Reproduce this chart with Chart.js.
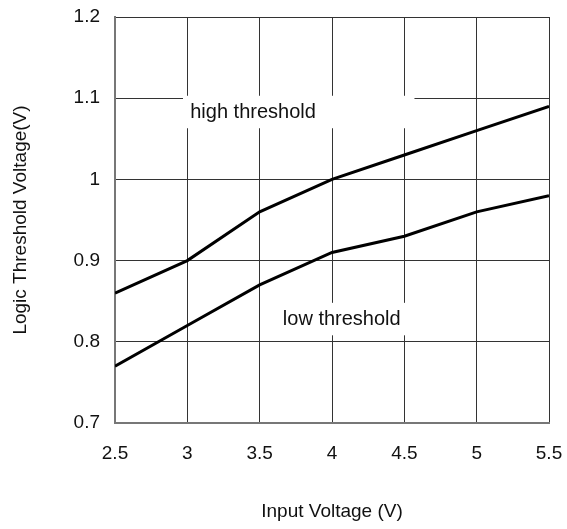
<!DOCTYPE html>
<html>
<head>
<meta charset="utf-8">
<script src="https://cdn.jsdelivr.net/npm/chart.js@4"></script>
<style>
  html, body { margin: 0; padding: 0; background: #fff; }
  #wrap { width: 567px; height: 529px; }
</style>
</head>
<body>
<div id="wrap"><canvas id="chart" width="567" height="529"></canvas></div>
<script>
var inputVoltage = [2.5, 3, 3.5, 4, 4.5, 5, 5.5];
var highThreshold = [0.86, 0.90, 0.96, 1.00, 1.03, 1.06, 1.09];
var lowThreshold = [0.77, 0.82, 0.87, 0.91, 0.93, 0.96, 0.98];

var curveLabels = ['high threshold', 'low threshold'];
// text anchor (x, y) and white box (x1, x2, y1, y2), in data units
var labelAnchor = [[3.02, 1.083], [3.66, 0.827]];
var labelBox = [[2.97, 4.57, 1.103, 1.063], [3.64, 4.51, 0.848, 0.808]];

var FONT = "'Liberation Sans', Arial, sans-serif";

function toPoints(xs, ys) {
    return xs.map(function (x, i) { return {x: x, y: ys[i]}; });
}

function fmt(v) {
    return String(+Number(v).toFixed(2));
}

var curveLabelPlugin = {
    id: 'curveLabels',
    beforeDatasetsDraw: function (chart) {
        var ctx = chart.ctx,
            xs = chart.scales.x,
            ys = chart.scales.y;
        ctx.save();
        curveLabels.forEach(function (txt, i) {
            var b = labelBox[i];
            var x1 = xs.getPixelForValue(b[0]),
                x2 = xs.getPixelForValue(b[1]),
                y1 = ys.getPixelForValue(b[2]),
                y2 = ys.getPixelForValue(b[3]);
            ctx.fillStyle = '#fff';
            ctx.fillRect(x1, y1, x2 - x1, y2 - y1);
            ctx.fillStyle = '#111';
            ctx.font = '20px ' + FONT;
            ctx.textAlign = 'left';
            ctx.textBaseline = 'middle';
            ctx.fillText(txt, xs.getPixelForValue(labelAnchor[i][0]), ys.getPixelForValue(labelAnchor[i][1]));
        });
        ctx.restore();
    }
};

var data = {
    datasets: [
        {
            label: 'high threshold',
            data: toPoints(inputVoltage, highThreshold),
            borderColor: '#000',
            borderWidth: 3,
            pointRadius: 0,
            tension: 0,
            fill: false
        },
        {
            label: 'low threshold',
            data: toPoints(inputVoltage, lowThreshold),
            borderColor: '#000',
            borderWidth: 3,
            pointRadius: 0,
            tension: 0,
            fill: false
        }
    ]
};

var options = {
    responsive: false,
    animation: false,
    layout: { padding: { top: 17, right: 18, left: 0, bottom: 0 } },
    plugins: {
        legend: { display: false },
        tooltip: { enabled: false }
    },
    scales: {
        x: {
            type: 'linear',
            min: 2.5,
            max: 5.5,
            afterFit: function (s) {
                s.height = 106;
                s.paddingLeft = 0;
                s.paddingRight = 0;
            },
            ticks: {
                stepSize: 0.5,
                padding: 19,
                color: '#111',
                font: { family: FONT, size: 19 },
                maxRotation: 0,
                callback: fmt
            },
            grid: { color: '#333', lineWidth: 1, drawTicks: false },
            border: { color: '#777', width: 2 },
            title: {
                display: true,
                text: 'Input Voltage (V)',
                color: '#111',
                font: { family: FONT, size: 19 },
                padding: { top: 0, bottom: 6 }
            }
        },
        y: {
            min: 0.7,
            max: 1.2,
            afterFit: function (s) {
                s.width = 115;
                s.paddingTop = 0;
                s.paddingBottom = 0;
            },
            ticks: {
                stepSize: 0.1,
                padding: 15,
                color: '#111',
                font: { family: FONT, size: 19 },
                callback: fmt
            },
            grid: { color: '#333', lineWidth: 1, drawTicks: false },
            border: { color: '#777', width: 2 },
            title: {
                display: true,
                text: 'Logic Threshold Voltage(V)',
                color: '#111',
                font: { family: FONT, size: 19 },
                padding: { top: 9, bottom: 0 }
            }
        }
    }
};

new Chart(document.getElementById('chart'), {
    type: 'line',
    data: data,
    options: options,
    plugins: [curveLabelPlugin]
});
</script>
</body>
</html>
